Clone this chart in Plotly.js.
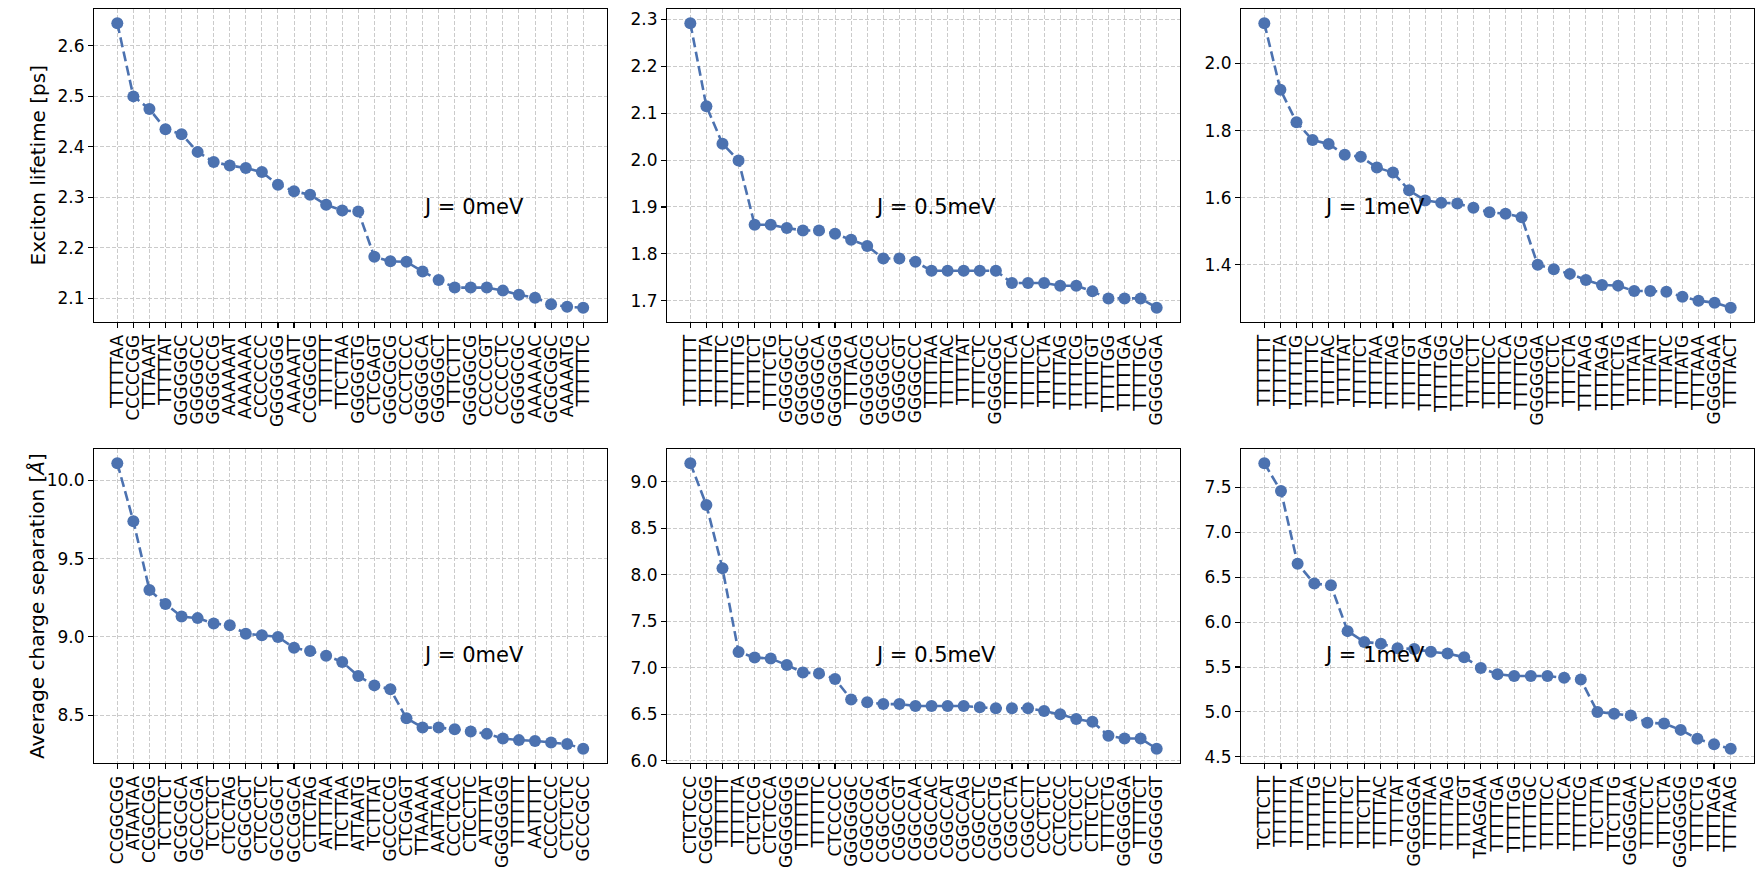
<!DOCTYPE html>
<html>
<head>
<meta charset="utf-8">
<script src="https://cdn.plot.ly/plotly-3.0.1.min.js"></script>
<style>html,body{margin:0;padding:0;background:#fff;}#chart{width:1764px;height:875px;}</style>
</head>
<body>
<div id="chart"></div>
<script>
// ---- Data ----
const labelsLife0 = ["TTTTTAA","CCCCCGG","TTTAAAT","TTTTTAT","GGGGGGC","GGGGGCC","GGGGCCG","AAAAAAT","AAAAAAA","CCCCCCC","GGGGGGG","AAAAATT","CCGGCGG","TTTTTTT","TTCTTAA","GGGGGTG","CTCGAGT","GGGCGCG","CCCTCCC","GGGGGCA","GGGGGCT","TTTCTTT","GGGGGCG","CCCCCGT","CCCCCTC","GGGGCGC","AAAAAAC","GCGCGGC","AAAAATG","TTTTTTC"];
const valuesLife0 = [2.645,2.500,2.475,2.435,2.425,2.390,2.370,2.363,2.358,2.350,2.325,2.312,2.305,2.285,2.274,2.272,2.182,2.173,2.172,2.153,2.136,2.121,2.121,2.121,2.115,2.107,2.101,2.088,2.083,2.081];

const labelsLife05 = ["TTTTTTT","TTTTTTA","TTTTTTC","TTTTTTG","TTTTTCT","TTTTCTG","GGGGGCT","GGGGGGC","GGGGGCA","GGGGGGG","TTTTACA","GGGGGCG","GGGGGCC","GGGGCGT","GGGGCCC","TTTTTAA","TTTTTAC","TTTTTAT","TTTTCTC","GGGGCGC","TTTTTCA","TTTTTCC","TTTTCTA","TTTTTAG","TTTTTCG","TTTTTGT","TTTTTGG","TTTTTGA","TTTTTGC","GGGGGGA"];
const valuesLife05 = [2.292,2.115,2.035,1.999,1.862,1.862,1.855,1.850,1.850,1.843,1.830,1.817,1.790,1.790,1.783,1.764,1.764,1.764,1.764,1.764,1.738,1.738,1.738,1.732,1.732,1.720,1.705,1.705,1.705,1.685];

const labelsLife1 = ["TTTTTTT","TTTTTTA","TTTTTTG","TTTTTTC","TTTTTAC","TTTTTAT","TTTTTCT","TTTTTAA","TTTTTAG","TTTTTGT","TTTTTGA","TTTTTGG","TTTTTGC","TTTTCTT","TTTTTCC","TTTTTCA","TTTTTCG","GGGGGGA","TTTTCTC","TTTTCTA","TTTTAAG","TTTTAGA","TTTTCTG","TTTTATA","TTTTATT","TTTTATC","TTTTATG","TTTTAAA","GGGGGAA","TTTTACT"];
const valuesLife1 = [2.120,1.922,1.825,1.772,1.760,1.728,1.722,1.690,1.675,1.622,1.592,1.585,1.583,1.570,1.557,1.552,1.542,1.400,1.387,1.373,1.355,1.340,1.338,1.322,1.322,1.320,1.305,1.293,1.287,1.272];

const labelsSep0 = ["CCGGCGG","ATAATAA","CCGCCGG","TCTTTCT","GCGCGCA","GCCCCGA","TCTCTCT","CTCCTAG","GCGCGCT","CTCCCTC","GCCGGCT","GCCGGCA","CTTCTAG","ATTTTAA","TTCTTAA","ATTAATG","TCTTTAT","GCCCCCG","CTCGAGT","TTAAAAA","AATTAAA","CCCTCCC","CTCCTTC","ATTTTAT","GGGGGGG","TTTTTTT","AATTTTT","CCCCCCC","CTCTCTC","GCCCGCC"];
const valuesSep0 = [10.11,9.74,9.30,9.21,9.13,9.12,9.085,9.075,9.02,9.01,9.00,8.93,8.91,8.88,8.84,8.75,8.69,8.665,8.48,8.42,8.42,8.41,8.395,8.38,8.35,8.34,8.335,8.325,8.315,8.285];

const labelsSep05 = ["CTCTCCC","CGGCCGG","TTTTTTT","TTTTTTA","CTCTCCG","CTCTCCA","GGGGGGG","TTTTTTG","TTTTTTC","CTCCCCC","GGGGGGC","CGGCCGC","CGGCCGA","CGGCCGT","CGGCCAA","CGGCCAC","CGGCCAT","CGGCCAG","CGGCCTC","CGGCCTG","CGGCCTA","CGGCCTT","CCCTCTC","CCTCCCC","CTCTCCT","CTTCTCC","TTTTCTG","GGGGGGA","TTTTTCT","GGGGGGT"];
const valuesSep05 = [9.20,8.75,8.07,7.17,7.11,7.10,7.03,6.95,6.94,6.88,6.66,6.63,6.61,6.61,6.59,6.59,6.59,6.59,6.575,6.565,6.565,6.565,6.535,6.50,6.45,6.42,6.27,6.24,6.24,6.13];

const labelsSep1 = ["TCTTCTT","TTTTTTT","TTTTTTA","TTTTTTG","TTTTTTC","TTTTTCT","TTTCTTT","TTTTTAC","TTTTTAT","GGGGGGA","TTTTTAA","TTTTTAG","TTTTTGT","TAAGGAA","TTTTTGA","TTTTTGG","TTTTTGC","TTTTTCC","TTTTTCA","TTTTTCG","TTCTTTA","TTCTTTG","GGGGGAA","TTTTCTC","TTTTCTA","GGGGGGG","TTTTCTG","TTTTAGA","TTTTAAG"];
const valuesSep1 = [7.77,7.46,6.65,6.43,6.41,5.90,5.78,5.76,5.71,5.70,5.67,5.65,5.61,5.49,5.42,5.40,5.40,5.40,5.38,5.36,5.00,4.98,4.96,4.88,4.87,4.80,4.70,4.64,4.59];

const couplingTexts = ["J = 0meV","J = 0.5meV","J = 1meV"];
const yTitles = ["Exciton lifetime [ps]","Average charge separation [<i>Å</i>]"];

// ---- Layout geometry (pixels) ----
const W = 1764, H = 875;
const cols = [[94,606.5],[667,1180],[1241,1754]];
const rows = [[9,322],[449,763]];
const dtick = [0.1,0.1,0.2,0.5,0.5,0.5];
const textX = [0.639,0.401,0.158];
const textY = [0.369,0.343];

const panels = [
  [labelsLife0, valuesLife0],[labelsLife05, valuesLife05],[labelsLife1, valuesLife1],
  [labelsSep0, valuesSep0],[labelsSep05, valuesSep05],[labelsSep1, valuesSep1]
];

const FONT = "DejaVu Sans, sans-serif";
const traces = [];
const layout = {
  width: W, height: H,
  margin: {l:0,r:0,t:0,b:0},
  paper_bgcolor: "#ffffff", plot_bgcolor: "#ffffff",
  showlegend: false,
  font: {family: FONT, color: "#000", size: 17},
  annotations: []
};

panels.forEach((p, k) => {
  const r = Math.floor(k/3), c = k % 3;
  const idx = k === 0 ? "" : String(k+1);
  const labels = p[0], vals = p[1];
  const xs = labels.map((_, i) => i);
  traces.push({
    type: "scatter", mode: "lines+markers",
    x: xs, y: vals,
    xaxis: "x"+idx, yaxis: "y"+idx,
    line: {color: "#4c72b0", width: 2.6, dash: "10px,4.5px"},
    marker: {color: "#4c72b0", size: 12},
    hoverinfo: "skip"
  });
  const n = labels.length;
  const ymin = Math.min(...vals), ymax = Math.max(...vals);
  const pad = 0.05*(ymax-ymin);
  const common = {
    showline: true, mirror: true, linecolor: "#000", linewidth: 1.1,
    ticks: "outside", ticklen: 5, tickwidth: 1.1, tickcolor: "#000",
    showgrid: true, gridcolor: "#cbcbcb", gridwidth: 1, griddash: "4px,2px",
    zeroline: false, tickfont: {family: FONT, size: 17, color: "#000"}
  };
  layout["xaxis"+idx] = Object.assign({}, common, {
    domain: [cols[c][0]/W, cols[c][1]/W],
    anchor: "y"+idx,
    range: [-0.05*(n-1), (n-1)*1.05],
    tickmode: "array", tickvals: xs, ticktext: labels,
    tickangle: -90
  });
  layout["yaxis"+idx] = Object.assign({}, common, {
    domain: [1-rows[r][1]/H, 1-rows[r][0]/H],
    anchor: "x"+idx,
    range: [ymin-pad, ymax+pad],
    dtick: dtick[k], tickformat: ".1f"
  });
  layout.annotations.push({
    xref: "x"+idx+" domain", yref: "y"+idx+" domain",
    x: textX[c], y: textY[r], xanchor: "left", yanchor: "middle",
    text: couplingTexts[c], showarrow: false,
    font: {family: FONT, size: 21, color: "#000"}
  });
});

yTitles.forEach((t, r) => {
  layout.annotations.push({
    xref: "paper", yref: "paper",
    x: 37/W, y: 1-(rows[r][0]+rows[r][1])/2/H,
    xanchor: "center", yanchor: "middle", textangle: -90,
    text: t, showarrow: false,
    font: {family: FONT, size: 20, color: "#000"}
  });
});

Plotly.newPlot("chart", traces, layout, {staticPlot: true, displayModeBar: false});
</script>
</body>
</html>
